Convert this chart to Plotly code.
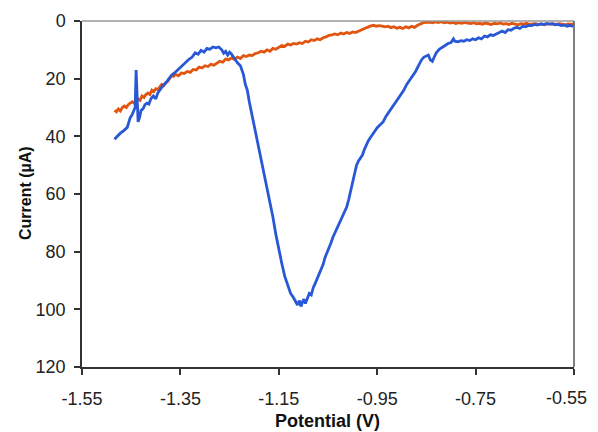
import plotly.graph_objects as go

blue_x = [-1.484, -1.478, -1.472, -1.465, -1.458, -1.452, -1.448, -1.445, -1.442, -1.440, -1.438, -1.436,
          -1.433, -1.430, -1.426, -1.422, -1.418, -1.414, -1.410, -1.405, -1.400, -1.396, -1.392, -1.386,
          -1.380, -1.374, -1.368, -1.362, -1.356, -1.350, -1.344, -1.338, -1.332, -1.326, -1.320, -1.314,
          -1.308, -1.302, -1.296, -1.290, -1.284, -1.278, -1.272, -1.266, -1.262, -1.258, -1.254, -1.250,
          -1.246, -1.240, -1.234, -1.228, -1.222, -1.218, -1.214, -1.210, -1.204, -1.198, -1.192, -1.186,
          -1.180, -1.174, -1.168, -1.162, -1.156, -1.150, -1.144, -1.138, -1.132, -1.126, -1.120, -1.116,
          -1.112, -1.108, -1.105, -1.102, -1.099, -1.096, -1.092, -1.088, -1.084, -1.080, -1.076, -1.072,
          -1.068, -1.064, -1.060, -1.056, -1.052, -1.048, -1.044, -1.040, -1.036, -1.032, -1.028, -1.024,
          -1.020, -1.016, -1.012, -1.008, -1.004, -1.000, -0.996, -0.992, -0.988, -0.984, -0.980, -0.976,
          -0.972, -0.968, -0.962, -0.956, -0.950, -0.944, -0.938, -0.932, -0.926, -0.920, -0.914, -0.908,
          -0.902, -0.896, -0.890, -0.884, -0.878, -0.872, -0.866, -0.860, -0.855, -0.850, -0.846, -0.842,
          -0.838, -0.834, -0.830, -0.824, -0.818, -0.812, -0.806, -0.800, -0.795, -0.792, -0.786, -0.780,
          -0.774, -0.768, -0.762, -0.756, -0.750, -0.744, -0.738, -0.732, -0.726, -0.720, -0.714, -0.708,
          -0.702, -0.696, -0.690, -0.684, -0.678, -0.672, -0.666, -0.660, -0.654, -0.648, -0.642, -0.636,
          -0.630, -0.624, -0.618, -0.612, -0.606, -0.600, -0.594, -0.588, -0.582, -0.576, -0.570, -0.564,
          -0.558, -0.552]
blue_y = [41.0, 39.8, 38.9, 38.0, 36.9, 33.5, 32.5, 31.2, 30.0, 17.0, 30.5, 35.0,
          33.5, 31.0, 30.5, 29.0, 28.5, 28.8, 27.0, 26.0, 27.0, 25.0, 24.0, 22.5,
          21.5, 20.0, 18.8, 18.0, 17.0, 16.2, 15.2, 14.3, 13.2, 12.5, 11.0, 11.5,
          10.2, 10.8, 9.5, 9.8, 9.0, 9.3, 9.0, 10.0, 11.2, 10.5, 11.8, 10.8,
          11.5, 13.0, 14.5, 15.5, 18.5, 22.0, 24.0, 28.0, 33.0, 37.5, 42.5, 47.0,
          52.0, 57.5, 62.5, 68.0, 74.0, 79.5, 84.0, 88.5, 91.5, 94.5, 96.0, 97.5,
          98.5, 97.0, 99.0, 97.5, 96.5, 98.0, 96.5, 94.5, 95.0, 92.5, 91.0, 89.5,
          88.0, 86.0, 84.5, 82.0, 80.5, 78.5, 77.0, 75.0, 73.5, 71.5, 70.5, 68.5,
          67.5, 66.0, 64.5, 62.0, 59.0, 56.5, 53.0, 50.0, 48.5, 47.5, 46.5, 44.5,
          43.0, 41.5, 40.0, 38.5, 37.0, 36.0, 35.0, 33.0, 31.5, 30.0, 28.5, 27.0,
          25.5, 24.0, 22.0, 20.5, 19.0, 17.5, 15.5, 13.5, 12.5, 12.0, 11.8, 13.5,
          14.0, 12.5, 11.0, 9.8, 9.0, 8.5, 7.8, 7.5, 6.2, 7.0, 7.2, 6.8,
          7.0, 6.5, 6.8, 6.2, 6.5, 5.8, 6.2, 5.2, 5.5, 4.8, 5.0, 4.5,
          4.0, 3.5, 4.0, 3.0, 3.2, 2.5, 2.2, 2.6, 1.8, 2.0, 1.5, 1.6,
          1.2, 1.4, 1.0, 1.2, 0.9, 1.1, 0.9, 1.3, 1.2, 1.6, 1.4, 1.8,
          1.5, 1.9]

orange_x = [-1.484, -1.480, -1.476, -1.472, -1.468, -1.464, -1.460, -1.456, -1.452, -1.448, -1.444, -1.440,
            -1.436, -1.432, -1.428, -1.424, -1.420, -1.416, -1.412, -1.408, -1.404, -1.400, -1.396, -1.392,
            -1.388, -1.384, -1.380, -1.376, -1.372, -1.368, -1.364, -1.360, -1.354, -1.348, -1.342, -1.336,
            -1.330, -1.324, -1.318, -1.312, -1.306, -1.300, -1.294, -1.288, -1.282, -1.276, -1.270, -1.264,
            -1.258, -1.252, -1.246, -1.240, -1.234, -1.228, -1.222, -1.216, -1.210, -1.204, -1.198, -1.192,
            -1.186, -1.180, -1.174, -1.168, -1.162, -1.156, -1.150, -1.144, -1.138, -1.132, -1.126, -1.120,
            -1.114, -1.108, -1.102, -1.096, -1.090, -1.084, -1.078, -1.072, -1.066, -1.060, -1.054, -1.048,
            -1.042, -1.036, -1.030, -1.024, -1.018, -1.012, -1.006, -1.000, -0.994, -0.988, -0.982, -0.976,
            -0.970, -0.964, -0.958, -0.952, -0.946, -0.940, -0.934, -0.928, -0.922, -0.916, -0.910, -0.904,
            -0.898, -0.892, -0.886, -0.880, -0.874, -0.868, -0.862, -0.856, -0.850, -0.844, -0.838, -0.832,
            -0.826, -0.820, -0.814, -0.808, -0.802, -0.796, -0.790, -0.784, -0.778, -0.772, -0.766, -0.760,
            -0.754, -0.748, -0.742, -0.736, -0.730, -0.724, -0.718, -0.712, -0.706, -0.700, -0.694, -0.688,
            -0.682, -0.676, -0.670, -0.664, -0.658, -0.652, -0.646, -0.640, -0.634, -0.628, -0.622, -0.616,
            -0.610, -0.604, -0.598, -0.592, -0.586, -0.580, -0.574, -0.568, -0.562, -0.556, -0.550]
orange_y = [31.0, 31.5, 30.5, 31.2, 30.0, 29.5, 30.0, 29.0, 28.5, 28.0, 28.5, 27.5,
            27.0, 27.5, 26.0, 26.5, 25.5, 25.0, 25.5, 24.0, 24.5, 23.5, 23.8, 22.8,
            22.0, 22.5, 21.5, 21.0, 20.0, 19.0, 19.2, 18.5, 19.0, 18.0, 18.2, 17.5,
            17.8, 16.8, 17.0, 16.0, 16.3, 15.5, 15.8, 15.0, 15.3, 14.5, 14.0, 14.3,
            13.2, 13.5, 12.8, 13.3, 12.5, 13.0, 12.0, 12.3, 11.8, 12.0, 11.3, 11.0,
            10.5, 10.8, 10.0, 10.5, 9.5, 9.8, 9.0, 8.5, 8.8, 8.0, 8.3, 7.8,
            8.0, 7.5, 7.8, 7.0, 7.3, 6.5, 6.8, 6.2, 6.5, 5.8, 5.5, 5.0,
            4.8, 4.5, 4.8, 4.2, 4.5, 4.0, 4.3, 3.8, 4.0, 3.5, 3.0, 2.5,
            2.2, 1.8, 1.5, 1.8, 1.6, 1.8, 2.0, 1.8, 2.3, 2.0, 2.5, 2.2,
            2.6, 2.0, 2.4, 1.8, 2.2, 1.5, 1.0, 0.6, 0.5, 0.4, 0.6, 0.3,
            0.5, 0.2, 0.6, 0.4, 0.7, 0.5, 0.9, 0.6, 0.8, 0.5, 0.7, 0.9,
            0.6, 1.0, 0.8, 1.1, 0.7, 0.9, 1.2, 0.8, 1.0, 0.7, 1.1, 0.9,
            1.2, 0.8, 1.0, 1.3, 0.9, 1.1, 0.8, 1.2, 1.0, 0.9, 1.2, 1.0,
            1.3, 0.9, 1.1, 1.0, 1.2, 0.9, 1.1, 1.3, 1.0, 1.2, 1.0]

x_ticks = [-1.55, -1.35, -1.15, -0.95, -0.75, -0.55]
y_ticks = [0, 20, 40, 60, 80, 100, 120]
x_ticktext = [f"{v:.2f}" for v in x_ticks]

# page offset of the figure div (browser default body margin)
OFF = 8
W, H = 598 - OFF, 432 - OFF
L, R, T, B = 82 - OFF, 24, 21 - OFF, 65
pw, ph = W - L - R, H - T - B


def px_x(page_x):
    return (page_x - OFF - L) / pw


def px_y(page_y):
    return (H - B - (page_y - OFF)) / ph


fig = go.Figure()
fig.add_trace(go.Scatter(x=orange_x, y=orange_y, mode="lines",
                         line=dict(color="#e0550f", width=2.8), showlegend=False))
fig.add_trace(go.Scatter(x=blue_x, y=blue_y, mode="lines",
                         line=dict(color="#2858d6", width=2.8), showlegend=False))

fig.update_layout(
    width=W, height=H,
    margin=dict(l=L, r=R, t=T, b=B, autoexpand=False),
    paper_bgcolor="white", plot_bgcolor="white",
    font=dict(family="Liberation Sans, Arial, sans-serif", color="#222"),
    xaxis=dict(range=[-1.55, -0.55], tickvals=x_ticks, ticktext=x_ticktext[:-1] + [""],
               showgrid=False, zeroline=False, showline=True, linecolor="#333", linewidth=1.5,
               ticks="outside", ticklen=6, tickcolor="#333", tickwidth=1.5, automargin=False,
               ticklabelstandoff=9, tickfont=dict(size=18, color="#222")),
    yaxis=dict(range=[120, 0], tickvals=y_ticks,
               showgrid=False, zeroline=False, showline=True, linecolor="#333", linewidth=1.5,
               ticks="outside", ticklen=6, tickcolor="#333", tickwidth=1.5, automargin=False,
               ticklabelstandoff=5, tickfont=dict(size=18, color="#222")),
    shapes=[
        dict(type="line", xref="paper", yref="paper", x0=0, x1=1, y0=1, y1=1,
             line=dict(color="#999", width=1.5)),
        dict(type="line", xref="paper", yref="paper", x0=1, x1=1, y0=0, y1=1,
             line=dict(color="#555", width=1.5)),
    ],
    annotations=[
        dict(text=x_ticktext[-1], xref="paper", yref="paper",
             x=px_x(589), y=px_y(398), xanchor="right", yanchor="middle",
             showarrow=False, font=dict(size=18, color="#222")),
        dict(text="<b>Potential (V)</b>", xref="paper", yref="paper",
             x=px_x(327), y=px_y(421), xanchor="center", yanchor="middle",
             showarrow=False, font=dict(size=18, color="#111")),
        dict(text="<b>Current (µA)</b>", xref="paper", yref="paper",
             x=px_x(25), y=px_y(193), xanchor="center", yanchor="middle",
             textangle=-90, showarrow=False, font=dict(size=16, color="#111")),
    ],
)

fig.write_html("out.html")
